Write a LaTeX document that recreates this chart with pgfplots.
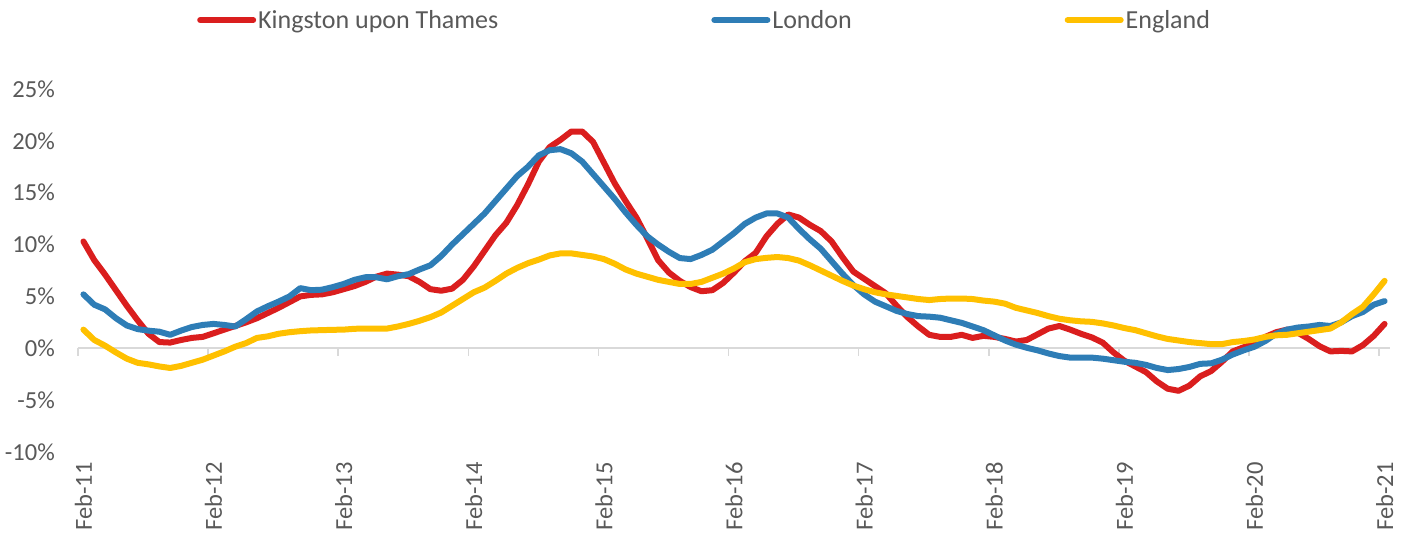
\documentclass[border=0pt]{standalone}
\usepackage{pgfplots}
\pgfplotsset{compat=1.18}
\usepackage{pgfplotstable}
\usepackage{fontspec}
\setmainfont{Carlito}
\definecolor{kred}{RGB}{218,30,30}
\definecolor{lblue}{RGB}{46,125,182}
\definecolor{eyel}{RGB}{255,192,0}
\definecolor{txt}{RGB}{89,89,89}
\definecolor{axg}{RGB}{217,217,217}

\pgfplotstableread{
i K L E
0 10.3 5.2 1.8
1 8.5 4.2 0.8
2 7.1 3.75 0.25
3 5.6 2.9 -0.4
4 4.1 2.2 -1.0
5 2.7 1.85 -1.4
6 1.4 1.7 -1.55
7 0.6 1.6 -1.75
8 0.55 1.3 -1.9
9 0.8 1.7 -1.7
10 1.0 2.05 -1.4
11 1.1 2.25 -1.1
12 1.45 2.35 -0.7
13 1.8 2.25 -0.3
14 2.15 2.1 0.15
15 2.5 2.8 0.5
16 2.9 3.55 1.0
17 3.4 4.05 1.15
18 3.9 4.5 1.4
19 4.45 5.0 1.55
20 5.0 5.8 1.65
21 5.15 5.6 1.72
22 5.2 5.65 1.75
23 5.4 5.9 1.78
24 5.7 6.2 1.8
25 6.0 6.6 1.88
26 6.4 6.85 1.9
27 6.9 6.85 1.9
28 7.2 6.65 1.9
29 7.1 6.95 2.1
30 6.95 7.15 2.35
31 6.4 7.6 2.65
32 5.7 8.0 3.0
33 5.55 8.9 3.45
34 5.75 10.0 4.1
35 6.6 11.0 4.75
36 7.9 12.0 5.4
37 9.4 13.0 5.85
38 10.9 14.2 6.5
39 12.1 15.4 7.2
40 13.8 16.6 7.75
41 15.8 17.5 8.2
42 18.0 18.6 8.55
43 19.4 19.1 8.95
44 20.1 19.2 9.15
45 20.9 18.8 9.15
46 20.9 18.0 9.0
47 19.9 16.8 8.85
48 17.9 15.6 8.6
49 15.9 14.4 8.15
50 14.2 13.1 7.6
51 12.6 11.9 7.2
52 10.6 10.8 6.9
53 8.5 10.0 6.6
54 7.3 9.3 6.4
55 6.5 8.7 6.2
56 5.9 8.6 6.2
57 5.5 9.0 6.4
58 5.6 9.5 6.8
59 6.3 10.3 7.2
60 7.3 11.1 7.7
61 8.4 12.0 8.3
62 9.2 12.6 8.6
63 10.8 13.0 8.72
64 12.0 13.0 8.8
65 12.9 12.6 8.7
66 12.6 11.5 8.45
67 11.9 10.5 8.0
68 11.3 9.6 7.5
69 10.3 8.4 7.0
70 8.8 7.2 6.5
71 7.4 6.1 6.05
72 6.7 5.2 5.7
73 6.0 4.5 5.4
74 5.3 4.05 5.2
75 4.1 3.6 5.05
76 3.0 3.3 4.9
77 2.1 3.1 4.75
78 1.3 3.05 4.65
79 1.1 2.95 4.75
80 1.1 2.7 4.8
81 1.3 2.45 4.8
82 1.0 2.1 4.75
83 1.2 1.75 4.6
84 1.1 1.25 4.5
85 0.9 0.75 4.3
86 0.65 0.35 3.9
87 0.8 0.05 3.65
88 1.35 -0.2 3.4
89 1.9 -0.5 3.1
90 2.15 -0.75 2.85
91 1.8 -0.9 2.7
92 1.4 -0.9 2.6
93 1.05 -0.9 2.55
94 0.55 -1.0 2.4
95 -0.4 -1.15 2.2
96 -1.2 -1.3 1.95
97 -1.75 -1.4 1.75
98 -2.3 -1.6 1.45
99 -3.2 -1.9 1.15
100 -3.9 -2.1 0.9
101 -4.1 -2.0 0.75
102 -3.6 -1.8 0.6
103 -2.7 -1.5 0.5
104 -2.2 -1.45 0.4
105 -1.3 -1.1 0.4
106 -0.3 -0.6 0.6
107 0.1 -0.2 0.7
108 0.5 0.15 0.85
109 1.1 0.7 1.1
110 1.55 1.4 1.25
111 1.8 1.8 1.3
112 1.5 2.0 1.45
113 0.9 2.1 1.6
114 0.2 2.25 1.75
115 -0.3 2.15 1.9
116 -0.25 2.5 2.5
117 -0.3 3.1 3.3
118 0.3 3.5 4.0
119 1.2 4.2 5.2
120 2.35 4.55 6.5
}\datatable

\begin{document}
\begin{tikzpicture}
\useasboundingbox (-78bp,-84bp) rectangle (1329bp,452bp);
\begin{axis}[
  scale only axis,
  width=1312bp, height=363bp,
  xmin=-0.5, xmax=120.5,
  ymin=-10, ymax=25,
  axis line style={draw=none},
  major tick length=0pt,
  tick style={draw=none},
  ytick={-10,-5,0,5,10,15,20,25},
  yticklabels={-10\%,-5\%,0\%,5\%,10\%,15\%,20\%,25\%},
  xtick={0,12,...,120},
  xticklabels={Feb-11,Feb-12,Feb-13,Feb-14,Feb-15,Feb-16,Feb-17,Feb-18,Feb-19,Feb-20,Feb-21},
  xticklabel style={rotate=90, anchor=east, inner sep=0pt},
  yticklabel style={anchor=east, inner sep=0pt},
  xticklabel shift=10bp,
  yticklabel shift=23bp,
  ticklabel style={font=\fontsize{24.5bp}{29bp}\selectfont, text=txt},
  unbounded coords=jump,
  clip=false,
  legend style={
    at={(0.0907,1.19)}, anchor=west,
    draw=none, fill=none, inner sep=0pt,
    font=\fontsize{26bp}{31bp}\selectfont, text=txt,
    /tikz/every odd column/.append style={column sep=2bp},
    /tikz/every even column/.append style={column sep=213bp},
    nodes={inner sep=0pt},
  },
  legend columns=3,
  legend cell align=left,
  legend image code/.code={\draw[#1, line cap=round] (0bp,0bp) -- (53bp,0bp);},
]
% zero axis line and tick marks
\addplot[axg, line width=2bp, forget plot] coordinates {(-0.5,0) (120.5,0)};
\addplot[axg, line width=1.5bp, forget plot] coordinates {
(-0.5,0) (-0.5,-0.75) (nan,nan)
(11.5,0) (11.5,-0.75) (nan,nan)
(23.5,0) (23.5,-0.75) (nan,nan)
(35.5,0) (35.5,-0.75) (nan,nan)
(47.5,0) (47.5,-0.75) (nan,nan)
(59.5,0) (59.5,-0.75) (nan,nan)
(71.5,0) (71.5,-0.75) (nan,nan)
(83.5,0) (83.5,-0.75) (nan,nan)
(95.5,0) (95.5,-0.75) (nan,nan)
(107.5,0) (107.5,-0.75) (nan,nan)
(119.5,0) (119.5,-0.75)
};
\addplot[kred, line width=6bp, line cap=round, line join=round] table[x=i, y=K] {\datatable};
\addlegendentry{Kingston upon Thames}
\addplot[lblue, line width=6bp, line cap=round, line join=round] table[x=i, y=L] {\datatable};
\addlegendentry{London}
\addplot[eyel, line width=6bp, line cap=round, line join=round] table[x=i, y=E] {\datatable};
\addlegendentry{England}
\end{axis}
\end{tikzpicture}
\end{document}
